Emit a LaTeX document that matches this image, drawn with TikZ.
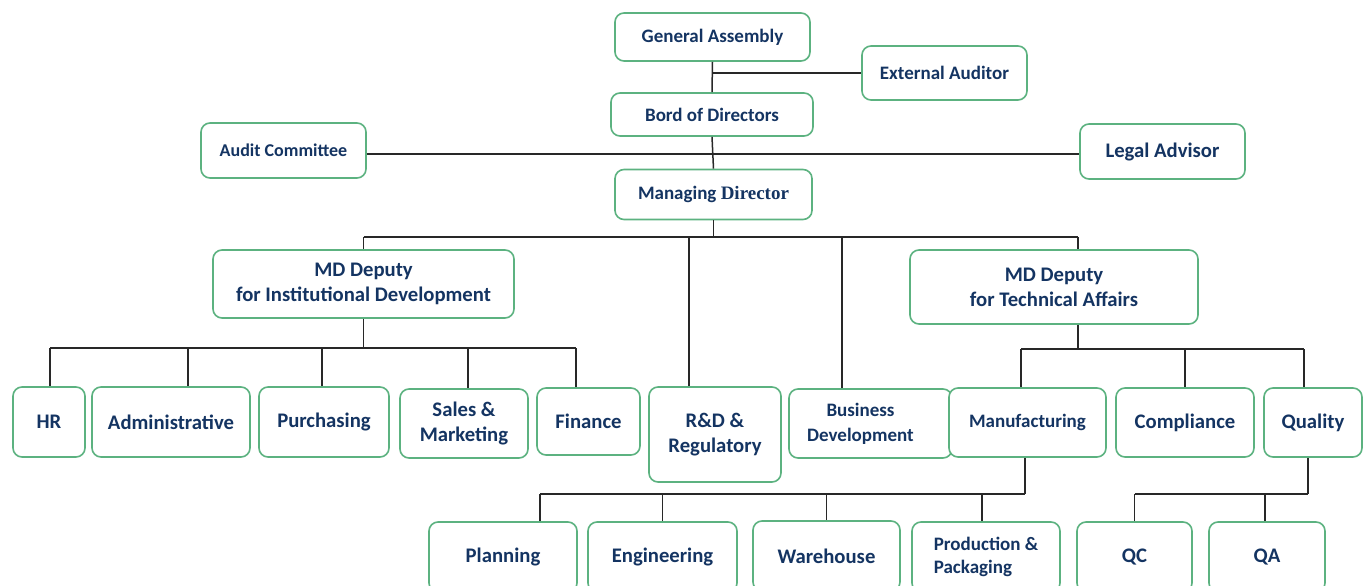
\documentclass[tikz,border=0pt]{standalone}
\usepackage{fontspec}
\setmainfont{Carlito}
\newfontfamily\serifb{Liberation Serif}
\definecolor{bordergreen}{RGB}{92,178,128}
\definecolor{textnavy}{RGB}{20,52,98}
\definecolor{linegray}{RGB}{40,40,40}
\tikzset{
  box/.style={draw=bordergreen, line width=1.6pt, rounded corners=9pt, fill=white,
    text=textnavy, font=\bfseries\fontsize{19}{25}\selectfont, align=center, inner sep=0pt},
  bigtext/.style={font=\bfseries\fontsize{20.7}{25}\selectfont},
  conn/.style={draw=linegray, line width=1.5pt}
}
\begin{document}
\begin{tikzpicture}[x=1pt,y=-1pt]
\useasboundingbox (0,0) rectangle (1369,586);
\clip (0,0) rectangle (1369,586);
% top
\node[box, minimum width=195, minimum height=48] (ga) at (712.5,37) {General Assembly};
\node[box, minimum width=165, minimum height=54] (ea) at (944.5,73) {External Auditor};
\node[box, minimum width=202, minimum height=43] (bod) at (712,114.5) {Bord of Directors};
\node[box, minimum width=165, minimum height=55, font=\bfseries\fontsize{18}{24}\selectfont] (ac) at (283.5,150.5) {Audit Committee};
\node[box, bigtext, minimum width=165, minimum height=55] (la) at (1162.5,151.5) {Legal Advisor};
\node[box, minimum width=197, minimum height=50] (md) at (713.5,194.5) {Managing {\serifb\bfseries Director}};
% deputies
\node[box, bigtext, minimum width=301, minimum height=68] (mdi) at (363.5,284) {MD Deputy\\for Institutional Development};
\node[box, bigtext, minimum width=288, minimum height=74] (mdt) at (1054,287) {MD Deputy\\for Technical Affairs};
% departments
\node[box, bigtext, minimum width=72, minimum height=70] (hr) at (49,422) {HR};
\node[box, bigtext, minimum width=158, minimum height=70] (adm) at (171,422) {Administrative};
\node[box, bigtext, minimum width=130, minimum height=70] (pur) at (324,422) {Purchasing};
\node[box, bigtext, minimum width=128, minimum height=69] (sal) at (464,423.5) {Sales \&\\Marketing};
\node[box, bigtext, minimum width=103, minimum height=67] (fin) at (588.5,421.5) {Finance};
\node[box, bigtext, minimum width=132, minimum height=95] (rd) at (715,434.5) {R\&D \&\\Regulatory};
\node[box, minimum width=163, minimum height=69] (bd) at (870.5,423.5) {\begin{tabular}{@{}c@{}}Business\\[0pt]Development\end{tabular}\hspace*{20pt}};
\node[box, minimum width=157, minimum height=69] (man) at (1027.5,422.5) {Manufacturing};
\node[box, bigtext, minimum width=138, minimum height=69] (com) at (1185,422.5) {Compliance};
\node[box, bigtext, minimum width=98, minimum height=69] (qua) at (1313,422.5) {Quality};
% bottom
\node[box, bigtext, minimum width=148, minimum height=70] (pla) at (503,557) {Planning};
\node[box, bigtext, minimum width=149, minimum height=70] (eng) at (662.5,557) {Engineering};
\node[box, bigtext, minimum width=147, minimum height=70] (war) at (826.5,556) {Warehouse};
\node[box, minimum width=148, minimum height=70, align=left, font=\bfseries\fontsize{19}{23}\selectfont] (pro) at (986,557) {Production \&\\Packaging};
\node[box, bigtext, minimum width=115, minimum height=70] (qc) at (1134.5,557) {QC};
\node[box, bigtext, minimum width=116, minimum height=70] (qa) at (1267,557) {QA};
% connectors top
\draw[conn] (ga.south) -- (bod.north);
\draw[conn] (ga.south |- ea.west) -- (ea.west);
\draw[conn] (bod.south) -- (md.north);
\draw[conn] (ac.east |- 0,154) coordinate (hl) -- (la.west |- hl);
% bus 1
\coordinate (b1) at (0,237);
\coordinate (t1) at (689,237);
\coordinate (t2) at (842,237);
\coordinate (t3) at (1078,237);
\draw[conn] (md.south) -- (md.south |- b1);
\draw[conn] (mdi.north |- b1) -- (t3);
\draw[conn] (mdi.north |- b1) -- (mdi.north);
\draw[conn] (t1) -- (t1 |- rd.north);
\draw[conn] (t2) -- (t2 |- bd.north);
\draw[conn] (t3) -- (t3 |- mdt.north);
% bus 2
\coordinate (b2) at (0,348);
\coordinate (d1) at (50,348);
\coordinate (d2) at (188,348);
\coordinate (d3) at (322,348);
\coordinate (d4) at (468,348);
\coordinate (d5) at (576,348);
\draw[conn] (mdi.south) -- (mdi.south |- b2);
\draw[conn] (d1) -- (d5);
\draw[conn] (d1) -- (d1 |- hr.north);
\draw[conn] (d2) -- (d2 |- adm.north);
\draw[conn] (d3) -- (d3 |- pur.north);
\draw[conn] (d4) -- (d4 |- sal.north);
\draw[conn] (d5) -- (d5 |- fin.north);
% bus 3
\coordinate (e0) at (1078,349);
\coordinate (e1) at (1021,349);
\coordinate (e3) at (1304,349);
\draw[conn] (e0 |- mdt.south) -- (e0);
\draw[conn] (e1) -- (e3);
\draw[conn] (e1) -- (e1 |- man.north);
\draw[conn] (com.north |- e1) -- (com.north);
\draw[conn] (e3) -- (e3 |- qua.north);
% bus 4
\coordinate (f0) at (1025,494);
\coordinate (f1) at (540,494);
\coordinate (f4) at (982,494);
\draw[conn] (f0 |- man.south) -- (f0);
\draw[conn] (f1) -- (f0);
\draw[conn] (f1) -- (f1 |- pla.north);
\draw[conn] (eng.north |- f1) -- (eng.north);
\draw[conn] (war.north |- f1) -- (war.north);
\draw[conn] (f4) -- (f4 |- pro.north);
% bus 5
\coordinate (g0) at (1308,494);
\coordinate (g2) at (1265,494);
\draw[conn] (g0 |- qua.south) -- (g0);
\draw[conn] (qc.north |- g0) -- (g0);
\draw[conn] (qc.north |- g0) -- (qc.north);
\draw[conn] (g2) -- (g2 |- qa.north);
\end{tikzpicture}
\end{document}
